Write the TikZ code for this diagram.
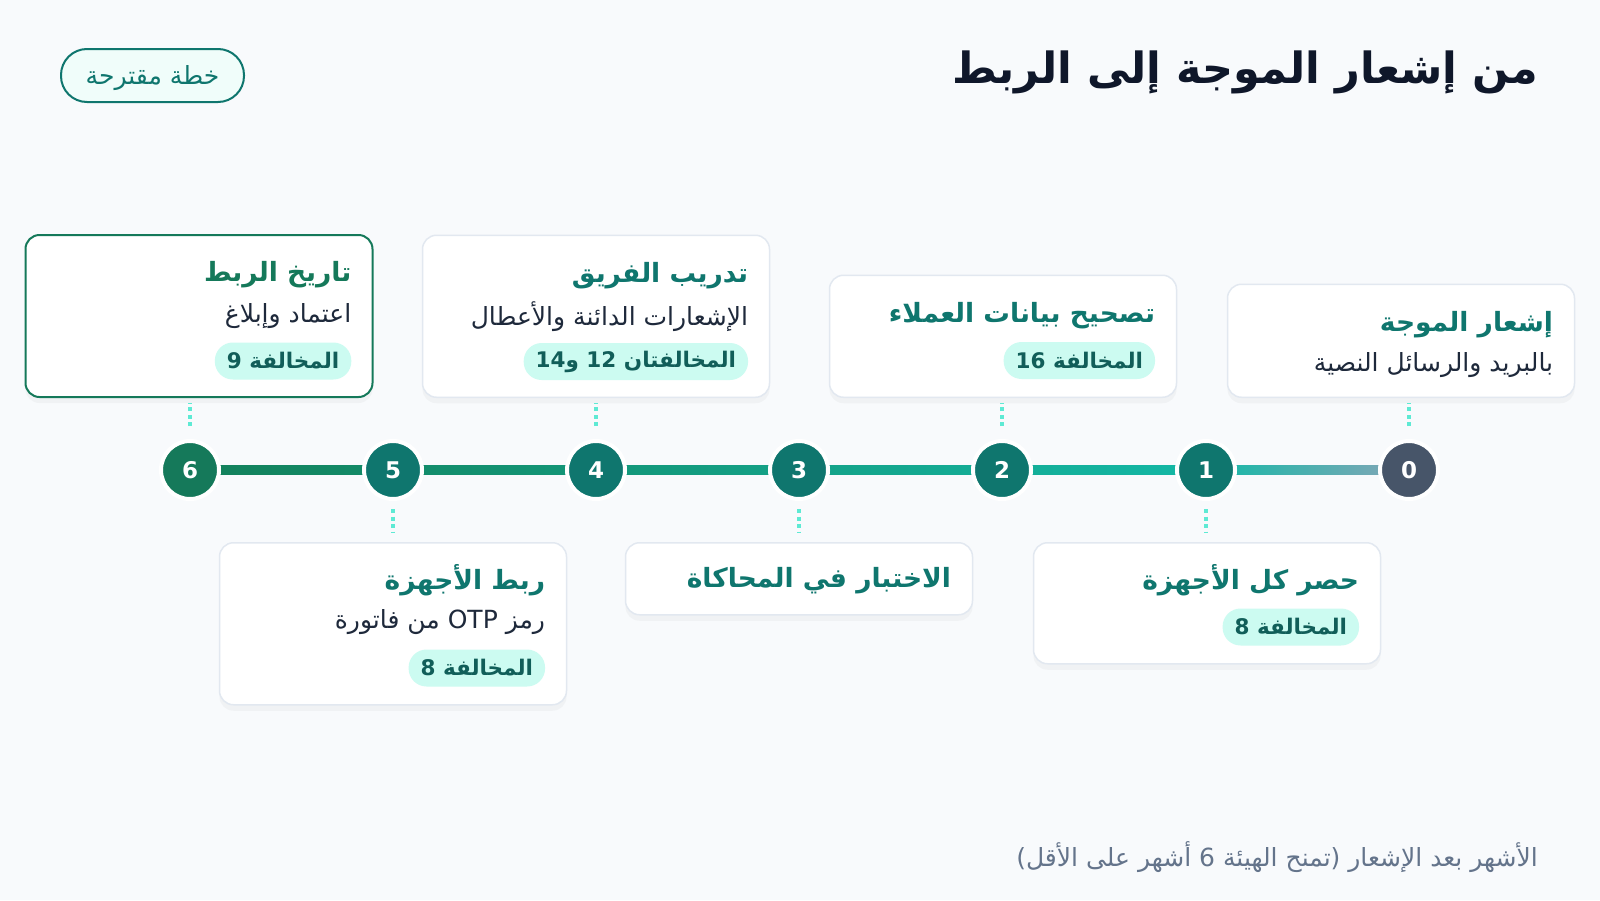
\documentclass[tikz,border=0pt]{standalone}
\usepackage{fontspec}
\setmainfont{DejaVu Sans}
\newfontfamily\arabicfont[Script=Arabic]{DejaVu Sans}
\TeXXeTstate=1
\usetikzlibrary{shadows}

\definecolor{pagebg}{HTML}{F8FAFC}
\definecolor{ink}{HTML}{0F172A}
\definecolor{subink}{HTML}{1E293B}
\definecolor{mutedink}{HTML}{64748B}
\definecolor{tealdark}{HTML}{0F766E}
\definecolor{greendark}{HTML}{15795A}
\definecolor{slatedark}{HTML}{475569}
\definecolor{cardline}{HTML}{E2E8F0}
\definecolor{badgefill}{HTML}{CCFBF1}
\definecolor{badgeink}{HTML}{115E59}
\definecolor{pillfill}{HTML}{F0FDFA}
\definecolor{tickline}{HTML}{5EEAD4}
\definecolor{railgreen}{HTML}{13805A}
\definecolor{railteal}{HTML}{14B8A6}
\definecolor{railslate}{HTML}{86A6B8}

\pgfdeclarehorizontalshading{railshade}{100bp}{color(0bp)=(railgreen); color(25bp)=(railgreen); color(66.7bp)=(railteal); color(75bp)=(railslate); color(100bp)=(railslate)}

\begin{document}
\begin{tikzpicture}
  [x=1pt,y=-1pt,
    every node/.style={font=\arabicfont},
    card/.style={draw=cardline,line width=1.5pt,fill=white,rounded corners=14pt,
      minimum width=347pt,inner sep=0pt,
      drop shadow={opacity=0.06,shadow xshift=0pt,shadow yshift=-6pt}},
    keycard/.style={card,draw=greendark,line width=2pt},
    ttl/.style={inner sep=0pt,text=tealdark,font=\arabicfont\bfseries\fontsize{26.5}{31}\selectfont},
    sub/.style={inner sep=0pt,text=subink,font=\arabicfont\fontsize{25}{30}\selectfont},
    badge/.style={fill=badgefill,text=badgeink,rounded corners=18pt,inner xsep=12pt,
      minimum height=37pt,font=\arabicfont\bfseries\fontsize{21.5}{26}\selectfont},
    stage/.style={circle,fill=tealdark,draw=white,line width=4pt,minimum size=58pt,
      inner sep=0pt,text=white,font=\bfseries\fontsize{23}{28}\selectfont},
    tick/.style={tickline,line width=3.5pt,dash pattern=on 4pt off 3.5pt},
  ]
  \fill[pagebg] (0,0) rectangle (1600,900);
  \useasboundingbox (0,0) rectangle (1600,900);

  % header
  \node[anchor=east,inner sep=0pt,text=ink,font=\arabicfont\bfseries\fontsize{43}{50}\selectfont]
    (heading) at (1538,72) {\beginR من إشعار الموجة إلى الربط\endR};
  \node[draw=tealdark,line width=2pt,fill=pillfill,rounded corners=26pt,
    minimum width=183pt,minimum height=53pt] (plan) at (152.5,75.5) {};
  \node[inner sep=0pt,text=tealdark,font=\arabicfont\fontsize{25}{30}\selectfont]
    (plantext) at ([yshift=-3pt]plan.center) {\beginR خطة مقترحة\endR};

  % timeline
  \coordinate (p6) at (190,470);
  \coordinate (p5) at (393,470);
  \coordinate (p4) at (596,470);
  \coordinate (p3) at (799,470);
  \coordinate (p2) at (1002,470);
  \coordinate (p1) at (1206,470);
  \coordinate (p0) at (1409,470);
  \path[shading=railshade] ([yshift=4.5pt]p6) rectangle ([yshift=-4.5pt]p0);
  \node[stage,fill=greendark] (n6) at (p6) {6};
  \node[stage] (n5) at (p5) {5};
  \node[stage] (n4) at (p4) {4};
  \node[stage] (n3) at (p3) {3};
  \node[stage] (n2) at (p2) {2};
  \node[stage] (n1) at (p1) {1};
  \node[stage,fill=slatedark] (n0) at (p0) {0};

  % cards above
  \node[keycard,minimum height=162pt,anchor=south] (c6) at (199,398) {};
  \node[ttl,text=greendark,anchor=east] (t6) at ([xshift=-22pt,yshift=-41pt]c6.north east) {\beginR تاريخ الربط\endR};
  \node[sub,anchor=east] (s6) at ([yshift=-41pt]t6.east) {\beginR اعتماد وإبلاغ\endR};
  \node[badge,anchor=east] (b6) at ([yshift=-45pt]s6.east) {\beginR المخالفة 9\endR};

  \node[card,minimum height=162pt,anchor=south] (c4) at (596,398) {};
  \node[ttl,anchor=east] (t4) at ([xshift=-22pt,yshift=-41pt]c4.north east) {\beginR تدريب الفريق\endR};
  \node[sub,anchor=east] (s4) at ([yshift=-41pt]t4.east) {\beginR الإشعارات الدائنة والأعطال\endR};
  \node[badge,anchor=east] (b4) at ([yshift=-45pt]s4.east) {\beginR المخالفتان 12 و14\endR};

  \node[card,minimum height=122pt,anchor=south] (c2) at (1003,398) {};
  \node[ttl,anchor=east] (t2) at ([xshift=-22pt,yshift=-41pt]c2.north east) {\beginR تصحيح بيانات العملاء\endR};
  \node[badge,anchor=east] (b2) at ([yshift=-45pt]t2.east) {\beginR المخالفة 16\endR};

  \node[card,minimum height=113pt,anchor=south] (c0) at (1401,398) {};
  \node[ttl,anchor=east] (t0) at ([xshift=-22pt,yshift=-41pt]c0.north east) {\beginR إشعار الموجة\endR};
  \node[sub,anchor=east] (s0) at ([yshift=-41pt]t0.east) {\beginR بالبريد والرسائل النصية\endR};

  % cards below
  \node[card,minimum height=162pt,anchor=north] (c5) at (393,542) {};
  \node[ttl,anchor=east] (t5) at ([xshift=-22pt,yshift=-38pt]c5.north east) {\beginR ربط الأجهزة\endR};
  \node[sub,anchor=east] (s5) at ([yshift=-42pt]t5.east) {\beginR رمز OTP من فاتورة\endR};
  \node[badge,anchor=east] (b5) at ([yshift=-46pt]s5.east) {\beginR المخالفة 8\endR};

  \node[card,minimum height=72pt,anchor=north] (c3) at (799,542) {};
  \node[ttl,anchor=east] (t3) at ([xshift=-22pt,yshift=-39pt]c3.north east) {\beginR الاختبار في المحاكاة\endR};

  \node[card,minimum height=121pt,anchor=north] (c1) at (1207,542) {};
  \node[ttl,anchor=east] (t1) at ([xshift=-22pt,yshift=-38pt]c1.north east) {\beginR حصر كل الأجهزة\endR};
  \node[badge,anchor=east] (b1) at ([yshift=-47pt]t1.east) {\beginR المخالفة 8\endR};

  % ticks
  \draw[tick,shorten <=13pt,shorten >=5pt] (n6.north) -- (n6.north |- c6.south);
  \draw[tick,shorten <=13pt,shorten >=5pt] (n4.north) -- (n4.north |- c4.south);
  \draw[tick,shorten <=13pt,shorten >=5pt] (n2.north) -- (n2.north |- c2.south);
  \draw[tick,shorten <=13pt,shorten >=5pt] (n0.north) -- (n0.north |- c0.south);
  \draw[tick,shorten <=8pt,shorten >=9pt] (n5.south) -- (n5.south |- c5.north);
  \draw[tick,shorten <=8pt,shorten >=9pt] (n3.south) -- (n3.south |- c3.north);
  \draw[tick,shorten <=8pt,shorten >=9pt] (n1.south) -- (n1.south |- c1.north);

  % footer
  \node[anchor=east,inner sep=0pt,text=mutedink,font=\arabicfont\fontsize{25}{30}\selectfont]
    (note) at (1538,857) {\beginR الأشهر بعد الإشعار (تمنح الهيئة 6 أشهر على الأقل)\endR};
\end{tikzpicture}
\end{document}
